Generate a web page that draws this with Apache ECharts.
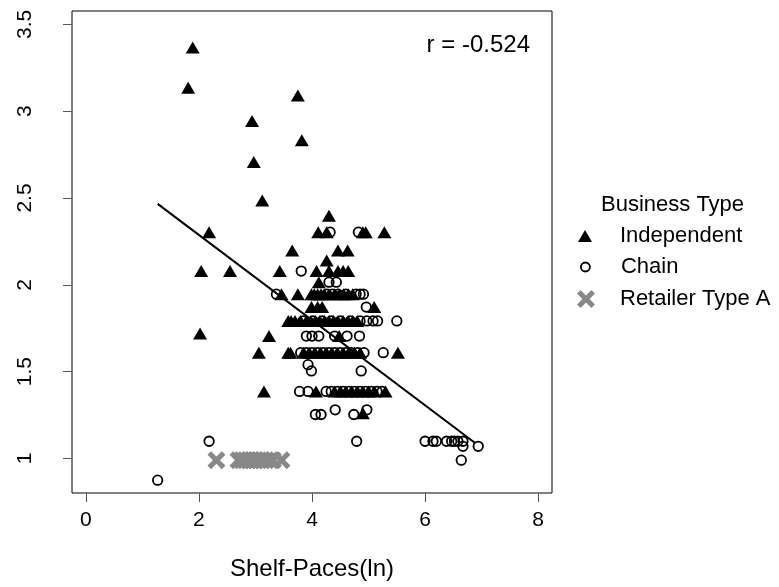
<!DOCTYPE html>
<html>
<head>
<meta charset="utf-8">
<script src="https://cdn.jsdelivr.net/npm/echarts@6/dist/echarts.min.js"></script>
<style>html,body{margin:0;padding:0;background:#fff;}#chart{width:779px;height:587px;}</style>
</head>
<body>
<div id="chart"></div>
<script>
// ---- data (x = Shelf-Paces(ln), y = value) ----
const xTicks = [0, 2, 4, 6, 8];
const yTicks = [1, 1.5, 2, 2.5, 3, 3.5];
const independent = [
  [1.89,3.367],[1.81,3.135],[3.75,3.091],[2.94,2.944],[3.82,2.833],[2.97,2.708],[3.12,2.485],[4.30,2.398],
  [2.18,2.303],[4.11,2.303],[4.26,2.303],[4.90,2.303],[4.95,2.303],[5.28,2.303],
  [3.65,2.197],[4.46,2.197],[4.63,2.197],
  [4.26,2.14],
  [2.04,2.079],[2.55,2.079],[3.43,2.079],[4.08,2.079],[4.30,2.079],[4.46,2.079],[4.55,2.079],[4.64,2.079],
  [4.12,2.015],
  [3.46,1.946],[3.75,1.946],[3.99,1.946],[4.04,1.946],[4.10,1.946],[4.16,1.946],[4.22,1.946],[4.30,1.946],[4.40,1.946],[4.48,1.946],[4.56,1.946],[4.64,1.946],[4.72,1.946],
  [3.99,1.872],[4.10,1.872],[4.18,1.872],[5.10,1.872],
  [3.58,1.792],[3.63,1.792],[3.70,1.792],[3.80,1.792],[3.90,1.792],[3.98,1.792],[4.06,1.792],[4.14,1.792],[4.22,1.792],[4.30,1.792],[4.38,1.792],[4.46,1.792],[4.55,1.792],[4.64,1.792],[4.72,1.792],[4.80,1.792],
  [2.02,1.72],[3.24,1.705],[4.48,1.705],
  [3.06,1.609],[3.58,1.609],[3.62,1.609],[3.85,1.609],[3.95,1.609],[4.05,1.609],[4.15,1.609],[4.25,1.609],[4.35,1.609],[4.45,1.609],[4.55,1.609],[4.65,1.609],[4.75,1.609],[4.85,1.609],[5.52,1.609],
  [3.15,1.386],[4.07,1.386],[4.40,1.386],[4.50,1.386],[4.60,1.386],[4.70,1.386],[4.80,1.386],[4.90,1.386],[5.00,1.386],[5.10,1.386],[5.30,1.386],
  [4.90,1.26]
];
const chain = [
  [4.32,2.303],[4.82,2.303],
  [3.81,2.079],
  [4.30,2.015],[4.43,2.015],
  [3.37,1.946],[4.26,1.946],[4.36,1.946],[4.46,1.946],[4.60,1.946],[4.78,1.946],[4.85,1.946],[4.91,1.946],
  [4.96,1.872],
  [3.84,1.792],[4.02,1.792],[4.18,1.792],[4.34,1.792],[4.50,1.792],[4.68,1.792],[4.85,1.792],[4.97,1.792],[5.08,1.792],[5.16,1.792],[5.50,1.792],
  [3.90,1.705],[4.00,1.705],[4.12,1.705],[4.40,1.705],[4.62,1.705],[4.84,1.705],
  [3.80,1.609],[3.90,1.609],[4.00,1.609],[4.10,1.609],[4.20,1.609],[4.30,1.609],[4.40,1.609],[4.50,1.609],[4.60,1.609],[4.70,1.609],[4.80,1.609],[4.92,1.609],[5.26,1.609],
  [3.93,1.54],[3.99,1.504],[4.87,1.504],
  [3.78,1.386],[3.93,1.386],[4.25,1.386],[4.34,1.386],[4.45,1.386],[4.55,1.386],[4.65,1.386],[4.75,1.386],[4.85,1.386],[4.95,1.386],[5.05,1.386],[5.15,1.386],[5.24,1.386],
  [4.06,1.253],[4.16,1.253],[4.41,1.28],[4.74,1.253],[4.97,1.28],
  [2.18,1.099],[4.79,1.099],
  [6.00,1.099],[6.14,1.099],[6.20,1.099],[6.38,1.099],[6.47,1.099],[6.52,1.099],[6.58,1.099],[6.67,1.099],
  [6.67,1.07],[6.94,1.07],[6.64,0.99],
  [1.27,0.875]
];
const retailerA = [
  [2.31,0.99],[2.70,0.99],[2.76,0.99],[2.82,0.99],[2.88,0.99],[2.94,0.99],[3.00,0.99],[3.06,0.99],[3.12,0.99],[3.19,0.99],[3.31,0.99],[3.46,0.99]
];
const fitLine = [[1.27,2.466],[6.88,1.09]];
const rText = 'r = -0.524';

const FONT = "'Liberation Sans', Arial, sans-serif";
const XPATH = 'path://M0,2 L2,0 L5,3 L8,0 L10,2 L7,5 L10,8 L8,10 L5,7 L2,10 L0,8 L3,5 Z';

const chart = echarts.init(document.getElementById('chart'), null, {renderer: 'canvas'});
const legendText = {fontFamily: FONT, fontSize: 22, color: '#000', padding: [0, 0, 0, 23]};
chart.setOption({
  animation: false,
  backgroundColor: '#fff',
  title: {
    text: 'Business Type', left: 596, top: 189,
    textStyle: {fontFamily: FONT, fontSize: 22, fontWeight: 'normal', color: '#000'}
  },
  legend: [
    {data: [{name: 'Independent', icon: 'triangle'}], orient: 'vertical', left: 578, top: 225, padding: 0,
     itemWidth: 14, itemHeight: 12, textStyle: legendText, selectedMode: false,
     itemStyle: {color: '#000', opacity: 1}},
    {data: [{name: 'Chain', icon: 'circle'}], orient: 'vertical', left: 580, top: 256, padding: 0,
     itemWidth: 9, itemHeight: 9, textStyle: Object.assign({}, legendText, {padding: [0,0,0,26]}),
     itemStyle: {color: 'transparent', borderColor: '#000', borderWidth: 1.8, opacity: 1}, selectedMode: false},
    {data: [{name: 'Retailer Type A', icon: XPATH}], orient: 'vertical', left: 577, top: 288, padding: 0,
     itemWidth: 18, itemHeight: 18, textStyle: Object.assign({}, legendText, {padding: [0,0,0,20]}), selectedMode: false,
     itemStyle: {color: '#888', opacity: 1}}
  ],
  grid: {left: 72, right: 227, top: 11, bottom: 94, show: true, borderColor: '#000', borderWidth: 1, backgroundColor: 'transparent'},
  xAxis: {
    type: 'value', min: -0.245, max: 8.245,
    name: 'Shelf-Paces(ln)', nameLocation: 'middle', nameGap: 64,
    nameTextStyle: {fontFamily: FONT, fontSize: 24, color: '#000'},
    axisLine: {show: false, onZero: false},
    axisTick: {show: true, length: 9, lineStyle: {color: '#555'}, customValues: xTicks},
    axisLabel: {fontFamily: FONT, fontSize: 21, color: '#000', margin: 17, customValues: xTicks},
    splitLine: {show: false}
  },
  yAxis: {
    type: 'value', min: 0.801, max: 3.577,
    axisLine: {show: false, onZero: false},
    axisTick: {show: true, length: 9, lineStyle: {color: '#555'}, customValues: yTicks},
    axisLabel: {fontFamily: FONT, fontSize: 21, color: '#000', margin: 36, rotate: 90, customValues: yTicks},
    splitLine: {show: false}
  },
  graphic: [{
    type: 'text', right: 249, top: 33,
    style: {text: rText, fontFamily: FONT, fontSize: 24, fill: '#000'}
  }],
  series: [
    {name: 'Independent', type: 'scatter', data: independent, symbol: 'triangle', symbolSize: [14, 12],
     itemStyle: {color: '#000', opacity: 1}, z: 2},
    {name: 'Chain', type: 'scatter', data: chain, symbol: 'circle', symbolSize: 9.5,
     itemStyle: {color: 'transparent', borderColor: '#000', borderWidth: 1.8, opacity: 1}, z: 3},
    {name: 'Retailer Type A', type: 'scatter', data: retailerA, symbol: XPATH, symbolSize: 18,
     itemStyle: {color: '#888', opacity: 1}, z: 4},
    {name: 'fit', type: 'line', data: fitLine, symbol: 'none', lineStyle: {color: '#000', width: 2}, z: 5, silent: true}
  ]
});
</script>
</body>
</html>
